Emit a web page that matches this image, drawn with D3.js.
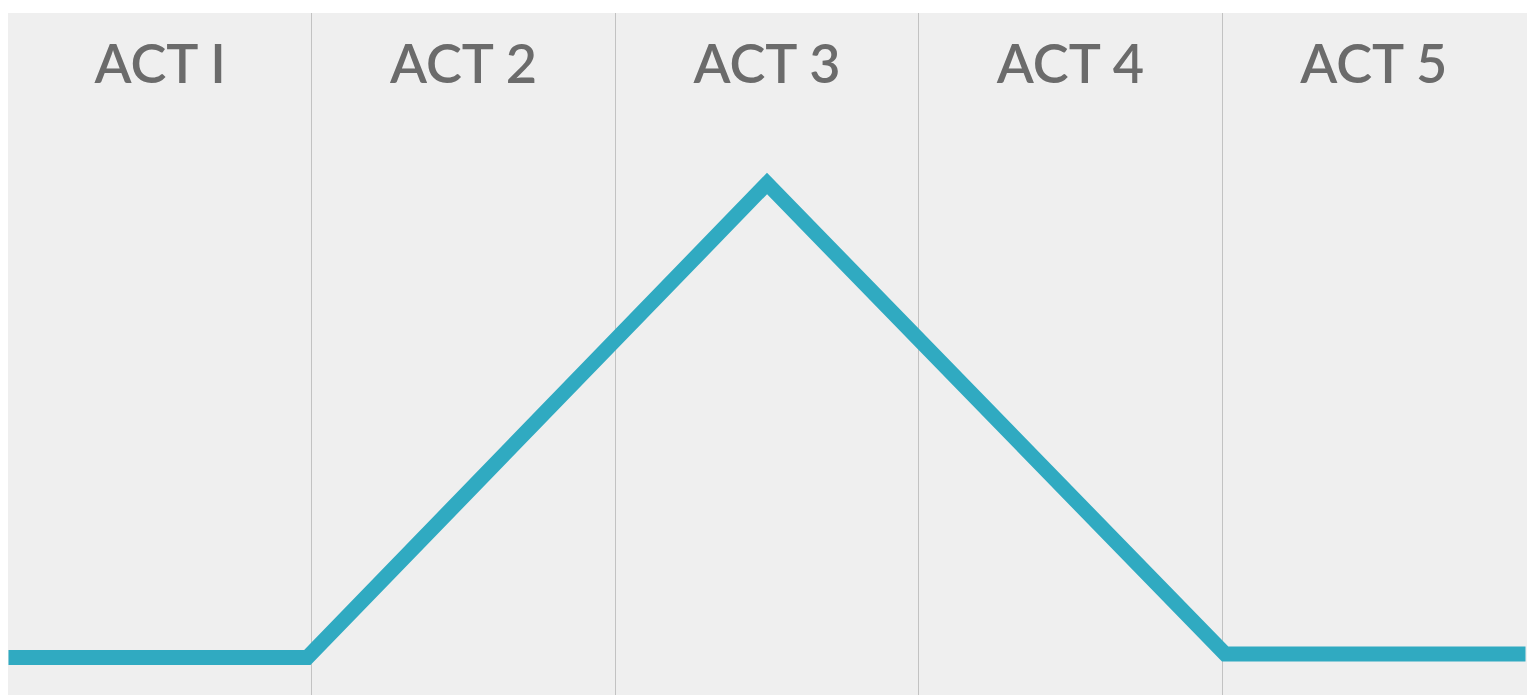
<!DOCTYPE html>
<html>
<head>
<meta charset="utf-8">
<script src="https://cdn.jsdelivr.net/npm/d3@7"></script>
<style>
  html, body { margin: 0; padding: 0; background: #fff; }
  svg { display: block; }
</style>
</head>
<body>
<div id="chart"></div>
<script>
// five acts, and the tension of the story at each turning point
const acts = ['ACT I', 'ACT 2', 'ACT 3', 'ACT 4', 'ACT 5'];
const storyAt = [0, 0.985, 2.5, 4.01, 5];   // position in acts
const tension = [5.5, 5.5, 75, 6, 6];       // 0..100

const width = 1531, height = 695;
const margin = {top: 13, right: 4, bottom: 0, left: 8};

const svg = d3.select('#chart')
  .append('svg')
    .attr('width', width)
    .attr('height', height);

const x = d3.scaleLinear()
  .domain([0, acts.length])
  .range([8.5, 1525.5]);

const y = d3.scaleLinear()
  .domain([0, 100])
  .range([height - margin.bottom, margin.top]);

svg.append('rect')
  .attr('x', margin.left)
  .attr('y', margin.top)
  .attr('width', width - margin.left - margin.right)
  .attr('height', height - margin.top - margin.bottom)
  .attr('fill', '#efefef');

// dividers between acts
svg.append('g')
  .selectAll('line')
  .data(d3.range(1, acts.length))
  .join('line')
    .attr('x1', d => Math.floor(x(d)) + 0.5)
    .attr('x2', d => Math.floor(x(d)) + 0.5)
    .attr('y1', margin.top)
    .attr('y2', height - margin.bottom)
    .attr('stroke', '#c2c2c2')
    .attr('stroke-width', 1);

svg.append('g')
  .selectAll('text')
  .data(acts)
  .join('text')
    .attr('x', (d, i) => x(i + 0.5))
    .attr('y', 83)
    .attr('text-anchor', 'middle')
    .attr('fill', '#6b6b6b')
    .style('font-family', 'Lato, "Noto Sans", sans-serif')
    .style('font-size', '54px')
    .style('font-weight', 600)
    .text(d => d);

const line = d3.line()
  .x(d => x(d[0]))
  .y(d => y(d[1]));

svg.append('path')
  .datum(d3.zip(storyAt, tension))
  .attr('d', line)
  .attr('fill', 'none')
  .attr('stroke', '#30aac1')
  .attr('stroke-width', 15)
  .attr('stroke-linejoin', 'miter');
</script>
</body>
</html>
